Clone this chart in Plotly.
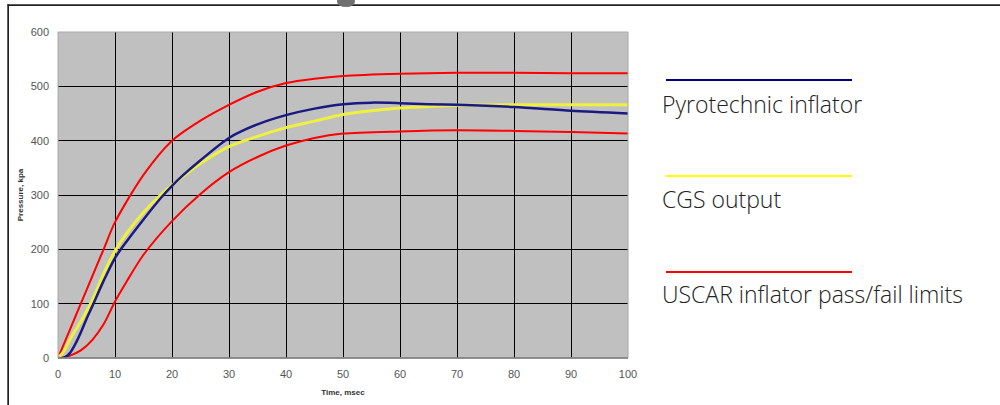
import plotly.graph_objects as go

# ---- data ----
time_upper = [0, 2, 4, 6, 8, 10, 15, 20, 25, 30, 35, 40, 45, 50, 60, 70, 80, 90, 100]
uscar_upper = [0, 50, 100, 150, 200, 250, 337, 400, 437, 466, 490, 506, 514, 519, 523, 525, 525, 524, 524]

time_lower = [0, 2, 4, 6, 8, 10, 12, 15, 20, 25, 30, 35, 40, 45, 50, 60, 70, 80, 90, 100]
uscar_lower = [0, 4, 14, 33, 62, 104, 140, 190, 252, 302, 342, 370, 391, 405, 413, 417, 419, 418, 416, 413]

time_pyro = [0, 1, 2, 3, 4, 5, 6, 8, 10, 12, 15, 18, 20, 22, 25, 30, 35, 40, 45, 50, 55, 60, 65, 70, 80, 90, 100]
pyro = [0, 0, 8, 25, 47, 72, 95, 142, 184, 214, 255, 294, 317, 337, 364, 405, 430, 447, 459, 467, 470, 469, 467, 466, 462, 455, 450]

time_cgs = [0, 1, 2, 3, 4, 5, 6, 8, 10, 12, 15, 18, 20, 25, 30, 35, 40, 45, 50, 55, 60, 65, 70, 80, 90, 100]
cgs = [0, 12, 32, 50, 67, 86, 106, 155, 197, 229, 268, 300, 318, 358, 389, 408, 424, 436, 448, 455, 460, 463, 465, 466, 466, 466]

x_ticks = [0, 10, 20, 30, 40, 50, 60, 70, 80, 90, 100]
y_ticks = [0, 100, 200, 300, 400, 500, 600]

legend_labels = ["Pyrotechnic inflator", "CGS output", "USCAR inflator pass/fail limits"]
legend_colors = ["#000080", "#FFFF00", "#FF0000"]

# ---- figure ----
fig = go.Figure()
spl = dict(shape="spline", smoothing=0.8)
fig.add_trace(go.Scatter(x=time_upper, y=uscar_upper, mode="lines",
                         line=dict(color="#FF0000", width=2, **spl), name="USCAR upper"))
fig.add_trace(go.Scatter(x=time_lower, y=uscar_lower, mode="lines",
                         line=dict(color="#FF0000", width=2, **spl), name="USCAR lower"))
fig.add_trace(go.Scatter(x=time_cgs, y=cgs, mode="lines",
                         line=dict(color="#F0F040", width=3, **spl), name="CGS output"))
fig.add_trace(go.Scatter(x=time_pyro, y=pyro, mode="lines",
                         line=dict(color="#1A1A80", width=2.5, **spl), name="Pyrotechnic inflator"))

W, H = 1000, 405
L, R, T, B = 58, 628, 32, 358


def px(xp):
    return (xp - L) / (R - L)


def py(yp):
    return (B - yp) / (B - T)


shapes = []
# plot area border
shapes.append(dict(type="rect", xref="paper", yref="paper", x0=0, x1=1, y0=0, y1=1,
                   line=dict(color="#A8A8A8", width=1), layer="above"))
shapes.append(dict(type="line", xref="paper", yref="paper", x0=0, x1=1, y0=0, y1=0,
                   line=dict(color="#7A7A7A", width=1.5), layer="above"))
# outer frame (top and left)
shapes.append(dict(type="rect", xref="paper", yref="paper", x0=px(7.5), x1=px(1000), y0=py(6), y1=py(4.3),
                   fillcolor="#222222", line=dict(width=0), layer="above"))
shapes.append(dict(type="rect", xref="paper", yref="paper", x0=px(7.3), x1=px(9), y0=py(4.3), y1=py(405),
                   fillcolor="#222222", line=dict(width=0), layer="above"))
# small grey blob at the top edge
shapes.append(dict(type="circle", xref="paper", yref="paper", x0=px(337), x1=px(355), y0=py(7), y1=py(-4),
                   fillcolor="#707070", line=dict(width=0), layer="above"))

annotations = []
legend_line_y = [80, 176, 272]
legend_text_y = [104, 199, 294]
for lab, col, ly, ty in zip(legend_labels, legend_colors, legend_line_y, legend_text_y):
    shapes.append(dict(type="line", xref="paper", yref="paper", x0=px(666), x1=px(852), y0=py(ly), y1=py(ly),
                       line=dict(color=col, width=2.2)))
    annotations.append(dict(text=lab, xref="paper", yref="paper", x=px(660), y=py(ty),
                            xanchor="left", yanchor="middle", showarrow=False,
                            font=dict(family="Open Sans, Liberation Sans, sans-serif", size=23,
                                      weight=300, color="#222222")))

fig.update_layout(
    width=W, height=H,
    margin=dict(l=L, r=W - R, t=T, b=H - B, pad=0),
    paper_bgcolor="white",
    plot_bgcolor="#C0C0C0",
    showlegend=False,
    shapes=shapes,
    annotations=annotations,
    font=dict(family="Liberation Sans, Arial, sans-serif", color="#555555"),
)
fig.update_xaxes(range=[0, 100], tickvals=x_ticks, ticktext=[str(v) for v in x_ticks],
                 showgrid=True, gridcolor="#000000", gridwidth=1, zeroline=False, showline=False,
                 ticks="", ticklabelstandoff=8, tickfont=dict(size=11, color="#555555"),
                 automargin=False,
                 title=dict(text="<b>Time, msec</b>", font=dict(size=8, color="#333333"), standoff=10))
fig.update_yaxes(range=[0, 600], tickvals=y_ticks, ticktext=[str(v) for v in y_ticks],
                 showgrid=True, gridcolor="#000000", gridwidth=1, zeroline=False, showline=False,
                 ticks="", ticklabelstandoff=8, tickfont=dict(size=11, color="#555555"),
                 automargin=False,
                 title=dict(text="<b>Pressure, kpa</b>", font=dict(size=8, color="#333333"), standoff=5))

fig.write_html("out.html", config={"displayModeBar": False},
               post_script="document.body.style.margin='0';document.body.style.overflow='hidden';")
